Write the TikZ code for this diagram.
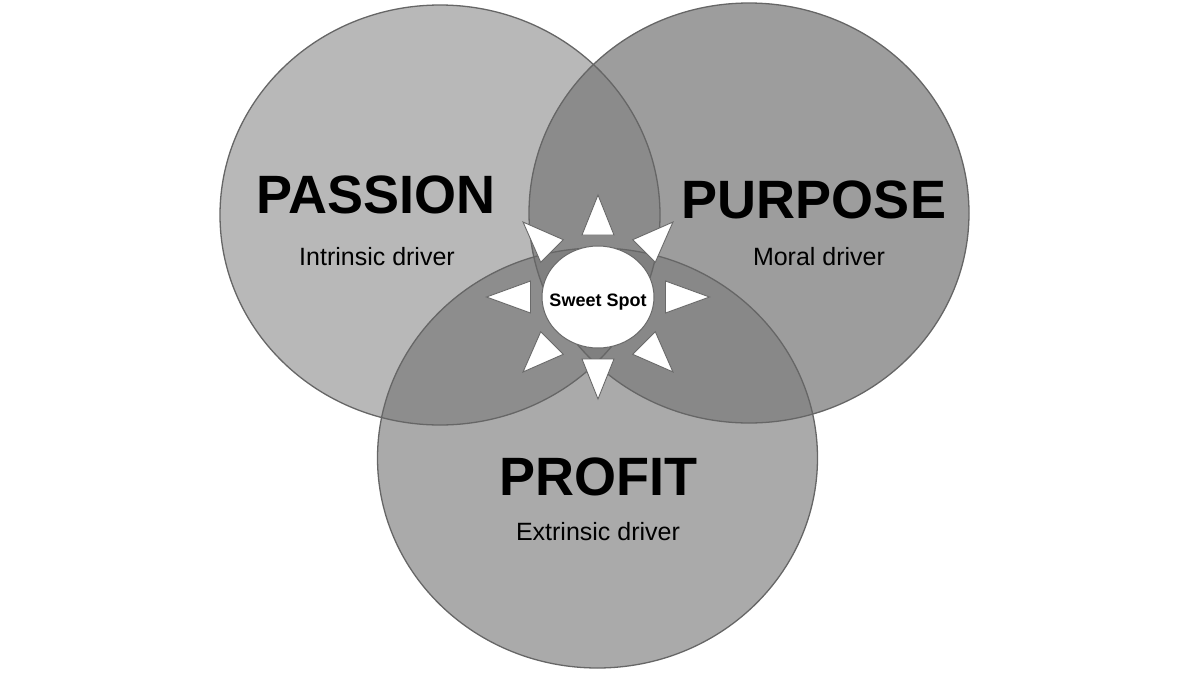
\documentclass[tikz,border=0pt]{standalone}
\usepackage{fontspec}
\setmainfont{Liberation Sans}
\usetikzlibrary{calc}
\definecolor{cpa}{HTML}{B8B8B8}
\definecolor{cpu}{HTML}{9D9D9D}
\definecolor{cpr}{HTML}{AAAAAA}
\definecolor{cpapu}{HTML}{8B8B8B}
\definecolor{cpapr}{HTML}{8D8D8D}
\definecolor{cpupr}{HTML}{888888}
\definecolor{ctri}{HTML}{808080}
\definecolor{ringline}{HTML}{666666}
\definecolor{rayline}{HTML}{6A6A6A}
\begin{document}
\begin{tikzpicture}[x=1pt,y=-1pt,
  ring/.style={draw=ringline, line width=1.3pt},
  ov/.style={x radius=220pt, y radius=210pt},
  big/.style={font=\fontsize{54}{60}\selectfont\bfseries, anchor=base, inner sep=0pt},
  sub/.style={font=\fontsize{25}{28}\selectfont, anchor=base, inner sep=0pt},
  ray/.style={fill=white, draw=rayline, line width=0.9pt, line join=miter}]
\useasboundingbox (0,0) rectangle (1200,675);
\coordinate (pa) at (440,215);
\coordinate (pu) at (749,213);
\coordinate (pr) at (597.5,458);
\coordinate (ss) at (598,297);
% base fills
\fill[cpa] (pa) ellipse [ov];
\fill[cpu] (pu) ellipse [ov];
\fill[cpr] (pr) ellipse [ov];
% pairwise overlaps
\begin{scope}
  \clip (pa) ellipse [ov];
  \fill[cpapu] (pu) ellipse [ov];
  \fill[cpapr] (pr) ellipse [ov];
\end{scope}
\begin{scope}
  \clip (pu) ellipse [ov];
  \fill[cpupr] (pr) ellipse [ov];
\end{scope}
\begin{scope}
  \clip (pa) ellipse [ov];
  \clip (pu) ellipse [ov];
  \fill[ctri] (pr) ellipse [ov];
\end{scope}
% outlines
\draw[ring] (pa) ellipse [ov];
\draw[ring] (pu) ellipse [ov];
\draw[ring] (pr) ellipse [ov];
% sweet spot
\draw[fill=white, draw=rayline, line width=1pt] (ss) ellipse [x radius=56pt, y radius=51pt];
\foreach \a/\b/\h in {0/67.5/44,45/65/41,90/62/40,135/65/41,180/67.5/44,225/65/41,270/62/40,315/65/41}
  \draw[ray] ($(ss)+(\a:\b)+(\a+90:16)$) -- ($(ss)+(\a:\b+\h)$) -- ($(ss)+(\a:\b)+(\a-90:16)$) -- cycle;
\node[font=\fontsize{18}{20}\selectfont\bfseries, anchor=base, inner sep=0pt] (sweet) at (598,306) {Sweet Spot};
% labels
\node[big] (passion) at (376,213) {PASSION};
\node[sub] (intr) at (377,265) {Intrinsic driver};
\node[big] (purpose) at (814,218) {PURPOSE};
\node[sub] (moral) at (819,265) {Moral driver};
\node[big] (profit) at (598,495) {PROFIT};
\node[sub] (extr) at (598,540) {Extrinsic driver};
\end{tikzpicture}
\end{document}
